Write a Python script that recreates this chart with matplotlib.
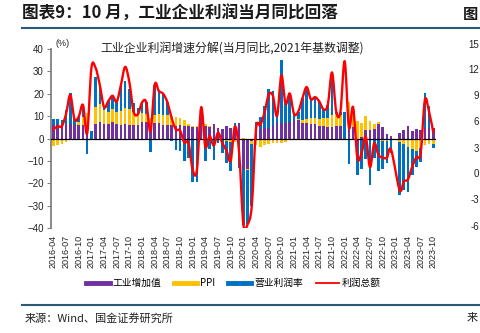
import numpy as np
import pandas as pd
import matplotlib.pyplot as plt
from matplotlib.path import Path
from matplotlib.patches import PathPatch
from matplotlib.lines import Line2D

plt.rcParams['font.family'] = ['Liberation Sans', 'Noto Sans CJK SC', 'DejaVu Sans']
cjk = ['Noto Sans CJK SC', 'DejaVu Sans']

nan = np.nan
months = pd.date_range('2016-04-01', '2023-10-01', freq='MS').strftime('%Y-%m').tolist()

# 工业增加值
iva = [6.0, 6.0, 6.2, 6.0, 6.3, 6.1, 6.1, 6.2, 6.0,
       0.0, 6.3, 7.6, 6.5, 6.5, 7.6, 6.4, 6.0, 6.6, 6.2, 6.1, 6.2,
       7.2, 7.2, 6.0, 7.0, 6.8, 6.0, 6.0, 6.1, 5.8, 5.9, 5.4, 5.7,
       5.3, 5.3, 8.5, 5.4, 5.0, 6.3, 4.8, 4.4, 5.8, 4.7, 6.2, 6.9,
       -13.5, -13.5, -1.1, 3.9, 4.4, 4.8, 4.8, 5.6, 6.9, 6.9, 7.0, 7.3,
       8.1, 8.1, 6.8, 6.8, 6.6, 6.5, 5.6, 5.4, 5.0, 5.2, 5.4, 5.8,
       0.0, 7.5, 5.0, -2.9, 0.7, 3.9, 3.8, 4.2, 6.3, 5.0, 2.2, 1.3,
       0.0, 2.4, 3.9, 5.6, 3.5, 4.4, 3.7, 4.5, 4.5, 4.6]
# PPI
ppi = [-3.4, -2.8, -2.6, -1.7, -0.8, 0.1, 1.2, 3.3, 5.5,
       0.0, 7.8, 7.6, 6.4, 5.5, 5.5, 5.5, 6.3, 6.9, 6.9, 5.8, 4.9,
       4.3, 3.7, 3.1, 3.4, 4.1, 4.7, 4.6, 4.1, 3.6, 3.3, 2.7, 0.9,
       0.1, 0.1, 0.4, 0.9, 0.6, 0.0, -0.3, -0.8, -1.2, -1.6, -1.4, -0.5,
       0.1, -0.4, -1.5, -3.1, -3.7, -3.0, -2.4, -2.0, -2.1, -2.1, -1.5, -0.4,
       0.2, 0.6, 1.4, 1.8, 2.6, 2.8, 3.2, 3.6, 4.2, 5.5, 5.6, 4.9,
       0.0, 8.8, 8.3, 8.0, 6.4, 6.1, 4.2, 2.3, 0.9, -1.3, -1.3, -0.7,
       0.0, -1.4, -2.5, -3.6, -4.6, -5.4, -4.4, -3.0, -2.5, -2.6]
# 营业利润率
margin = [2.5, 2.5, 1.9, 6.7, 14.0, 2.3, 2.5, 5.5, -7.0,
          3.5, 13.5, 8.6, 1.1, 4.7, 6.0, 4.6, 11.7, 12.0, 9.0, 4.0, 2.5,
          4.6, 5.2, -6.0, 13.6, 10.2, 9.3, 5.6, -1.0, -5.3, -5.6, -9.9, -8.5,
          -19.4, -19.4, 5.0, -10.0, -4.5, -9.4, -1.9, -5.6, -9.9, -13.0, 0.6, -12.7,
          -24.9, -24.4, -27.4, 3.4, 5.3, 9.7, 17.2, 15.5, 5.3, 28.0, 10.0, 13.2,
          2.7, 3.3, 9.8, 14.4, 8.3, 9.2, 7.7, 4.0, 5.8, 18.8, 1.0, 1.3,
          12.0, -11.3, 0.7, -13.6, -13.6, -9.2, -20.8, -8.6, -14.5, -12.2, -9.5, -5.6,
          0.0, -23.9, -20.6, -20.2, -11.5, -7.3, -6.0, 15.7, 9.9, -1.5]
# 利润总额
profit = [4.0, 5.5, 5.5, 11.0, 19.5, 8.5, 9.8, 15.0, 2.3,
          31.5, 31.5, 23.8, 14.0, 16.7, 19.1, 16.5, 24.0, 32.0, 25.1, 12.0, 10.8,
          16.1, 16.1, 3.1, 24.0, 21.1, 20.0, 16.2, 9.2, 4.1, 3.6, -1.8, -1.9,
          -14.0, -14.0, 13.9, -3.7, 1.1, -3.1, 2.6, -2.0, -5.3, -9.9, 5.4, -6.3,
          -38.3, -38.3, -30.0, 4.2, 6.0, 11.5, 19.6, 19.1, 10.1, 28.2, 15.5, 20.1,
          11.0, 12.0, 18.0, 23.0, 17.5, 18.5, 16.5, 13.0, 15.0, 29.5, 12.0, 12.0,
          34.5, 5.0, 14.0, -8.5, -6.5, 0.8, -12.8, -2.1, -7.3, -8.5, -8.6, -5.0,
          nan, -22.9, -19.2, -18.2, -12.6, -8.3, -6.7, 17.2, 11.9, 2.7]

fig = plt.figure(figsize=(4.8, 3.33), dpi=100)
ax = fig.add_axes([0.106, 0.315, 0.802, 0.538])

x = np.arange(len(months))
pos = np.zeros(len(x))
neg = np.zeros(len(x))
for vals, color in [(iva, '#7030A0'), (ppi, '#FFC000'), (margin, '#0070C0')]:
    v = np.nan_to_num(np.array(vals, dtype=float))
    ax.bar(x, v, bottom=np.where(v >= 0, pos, neg), width=0.62,
           color=color, linewidth=0, zorder=2)
    pos += np.where(v > 0, v, 0)
    neg += np.where(v < 0, v, 0)

ax.axhline(0, color='black', lw=0.9, zorder=3)

# smoothed profit line (Catmull-Rom as Bezier, like Excel smoothing)
p = np.array(profit, dtype=float)
ok = ~np.isnan(p)
pts = np.column_stack([x[ok].astype(float), p[ok]])
ext = np.vstack([pts[0], pts, pts[-1]])
verts = [pts[0]]
codes = [Path.MOVETO]
for i in range(len(pts) - 1):
    p0, p1, p2, p3 = ext[i], ext[i + 1], ext[i + 2], ext[i + 3]
    verts += [p1 + (p2 - p0) / 6, p2 - (p3 - p1) / 6, p2]
    codes += [Path.CURVE4] * 3
ax.add_patch(PathPatch(Path(verts, codes), fill=False, edgecolor='#FF0000',
                       lw=1.7, zorder=4, capstyle='round', joinstyle='round'))

ax.set_xlim(-0.6, len(x) - 0.4)
ax.set_ylim(-40, 40)
ax.set_yticks(range(-40, 41, 10))
ax.set_xticks(x[::3])
ax.set_xticklabels(months[::3], rotation=90, fontsize=6.5, color='#222222')
ax.tick_params(axis='x', length=0, pad=5)
ax.tick_params(axis='y', labelsize=7, colors='#222222', length=3, width=0.8,
               color='#808080', pad=2)
for s in ['top', 'right', 'bottom']:
    ax.spines[s].set_visible(False)
ax.spines['left'].set_color('#808080')
ax.spines['left'].set_linewidth(1.3)

fig.text(0.484, 1 - 49 / 333, '工业企业利润增速分解(当月同比,2021年基数调整)',
         ha='center', va='center', fontsize=8.6, family=cjk, color='#222222')
fig.text(63 / 480, 1 - 43 / 333, '(%)', ha='center', va='center', fontsize=6.5,
         color='#222222')

fig.text(22 / 480, 1 - 14 / 333, '图表9：10 月，工业企业利润当月同比回落',
         ha='left', va='center', fontsize=12, fontweight='bold', family=cjk,
         color='#1a1a1a')
fig.text(463 / 480, 1 - 14 / 333, '图', ha='left', va='center', fontsize=11,
         fontweight='bold', family=cjk, color='#1a1a1a')
fig.add_artist(Line2D([22 / 480, 1], [1 - 28 / 333] * 2, color='#2C5A77', lw=1.5))
fig.add_artist(Line2D([22 / 480, 1], [1 - 305 / 333] * 2, color='#2C5A77', lw=1.5))
fig.text(25 / 480, 1 - 318 / 333, '来源：Wind、国金证券研究所', ha='left',
         va='center', fontsize=8, family=cjk, color='#222222')
fig.text(467 / 480, 1 - 318 / 333, '来', ha='left', va='center', fontsize=8,
         family=cjk, color='#222222')

# neighbouring chart's axis at the right edge
right_ticks = ['15', '12', '9', '6', '3', '0', '-3', '-6']
right_y = [45, 70, 96, 122, 149, 174, 200, 227]
for t, yy in zip(right_ticks, right_y):
    fig.text(479 / 480, 1 - yy / 333, t, ha='right', va='center', fontsize=7,
             color='#222222')

handles = [Line2D([], [], color='#7030A0', lw=3.5),
           Line2D([], [], color='#FFC000', lw=3.5),
           Line2D([], [], color='#0070C0', lw=3.5),
           Line2D([], [], color='#FF0000', lw=1.3)]
labels = ['工业增加值', 'PPI', '营业利润率', '利润总额']
fig.legend(handles, labels, loc='center', bbox_to_anchor=(0.487, 1 - 283 / 333),
           ncol=4, frameon=False, handlelength=2.4, handletextpad=0.3,
           columnspacing=1.3, prop={'family': cjk, 'size': 7})

fig.savefig('out.png', dpi=100)
